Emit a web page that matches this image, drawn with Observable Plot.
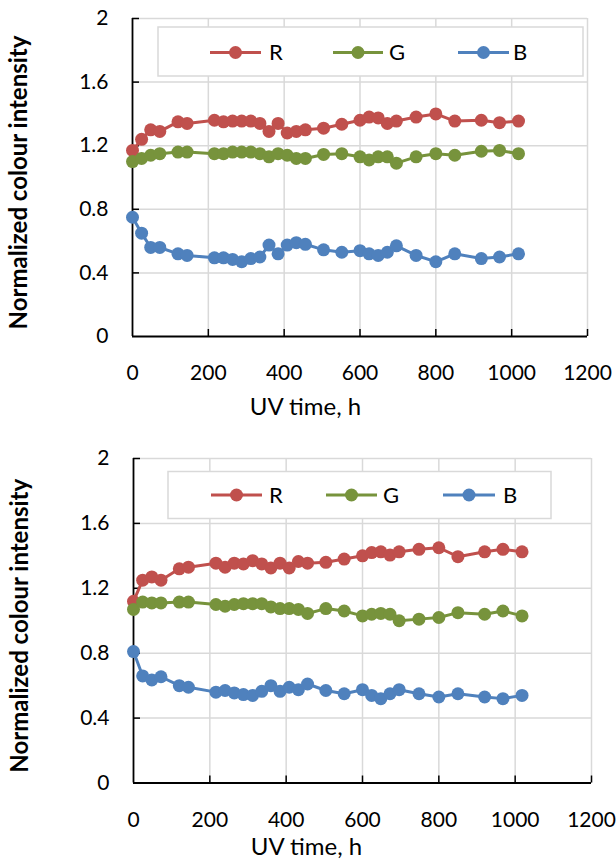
<!DOCTYPE html>
<html><head><meta charset="utf-8">
<script src="https://cdn.jsdelivr.net/npm/d3@7"></script>
<script src="https://cdn.jsdelivr.net/npm/@observablehq/plot@0.6"></script>
<style>
html,body{margin:0;padding:0;background:#fff;}
#wrap{position:relative;width:616px;height:862px;overflow:hidden;background:#fff;font-family:Lato,sans-serif;}
#wrap > *{position:absolute;left:0;}
</style></head><body><div id="wrap"></div>
<script>
// ---- data ----
const hours = [0,24,48,72,120,144,216,240,264,288,312,336,360,384,408,432,456,504,552,600,624,648,672,696,748,800,850,920,968,1018];
const seriesNames = ["R","G","B"];
const seriesColors = ["#C0504D","#77933C","#4F81BD"];
const xTicks = [0,200,400,600,800,1000,1200];
const yTicks = [0,0.4,0.8,1.2,1.6,2];
const yTickLabels = ["0","0.4","0.8","1.2","1.6","2"];
const xTitle = "UV time, h";
const yTitle = "Normalized colour intensity";

const r1 = [1.17,1.24,1.30,1.29,1.35,1.34,1.36,1.35,1.355,1.355,1.355,1.34,1.29,1.34,1.28,1.29,1.30,1.31,1.335,1.36,1.38,1.375,1.34,1.355,1.38,1.40,1.355,1.36,1.345,1.355];
const g1 = [1.10,1.12,1.14,1.15,1.16,1.16,1.15,1.15,1.16,1.16,1.16,1.15,1.13,1.15,1.14,1.12,1.12,1.145,1.15,1.13,1.11,1.13,1.13,1.09,1.13,1.15,1.14,1.165,1.17,1.15];
const b1 = [0.75,0.65,0.56,0.56,0.52,0.51,0.495,0.495,0.485,0.47,0.49,0.50,0.575,0.52,0.575,0.59,0.58,0.545,0.53,0.54,0.52,0.51,0.53,0.57,0.51,0.47,0.52,0.49,0.50,0.52];

const r2 = [1.12,1.25,1.27,1.25,1.32,1.33,1.355,1.33,1.355,1.35,1.37,1.35,1.325,1.355,1.325,1.365,1.355,1.36,1.38,1.40,1.42,1.425,1.405,1.425,1.44,1.45,1.395,1.425,1.44,1.425];
const g2 = [1.07,1.115,1.11,1.11,1.115,1.115,1.10,1.09,1.10,1.105,1.105,1.105,1.085,1.075,1.075,1.07,1.045,1.075,1.06,1.03,1.04,1.045,1.04,1.00,1.01,1.02,1.05,1.04,1.06,1.03];
const b2 = [0.81,0.66,0.635,0.655,0.60,0.59,0.56,0.57,0.555,0.545,0.54,0.565,0.60,0.565,0.59,0.575,0.61,0.57,0.55,0.575,0.54,0.52,0.55,0.575,0.55,0.53,0.55,0.53,0.52,0.54];

// ---- drawing ----
const wrap = document.getElementById("wrap");

function panel(values, cfg) {
  const rows = [];
  values.forEach((arr, si) => arr.forEach((v, i) => rows.push({series: seriesNames[si], h: hours[i], v})));
  const plotW = 616 - cfg.ml - cfg.mr, plotH = cfg.height - cfg.mt - cfg.mb;
  const tx = 7 * 1200 / plotW, ty = 7 * 2 / plotH;
  const svg = Plot.plot({
    width: 616, height: cfg.height,
    marginLeft: cfg.ml, marginRight: cfg.mr, marginTop: cfg.mt, marginBottom: cfg.mb,
    style: {fontFamily: "Lato, sans-serif", fontSize: "21px", color: "#000", background: "transparent", overflow: "visible"},
    x: {domain: [0, 1200]},
    y: {domain: [0, 2]},
    color: {domain: seriesNames, range: seriesColors},
    marks: [
      Plot.gridX(xTicks.slice(1), {stroke: "#d9d9d9", strokeOpacity: 1, strokeWidth: 1.5}),
      Plot.gridY(yTicks.slice(1), {stroke: "#d9d9d9", strokeOpacity: 1, strokeWidth: 1.5}),
      Plot.axisX(xTicks, {tickSize: 0, tickPadding: cfg.xpad, label: null, tickFormat: d => String(d), fill: "#000"}),
      Plot.axisY(yTicks, {tickSize: 0, tickPadding: 24, label: null, tickFormat: d => yTickLabels[yTicks.indexOf(d)], fill: "#000"}),
      Plot.ruleY(yTicks.slice(1), {x1: 0, x2: tx, stroke: "#000", strokeWidth: 1.5}),
      Plot.ruleX(xTicks.slice(1), {y1: 0, y2: ty, stroke: "#000", strokeWidth: 1.5}),
      Plot.ruleX([0], {stroke: "#000", strokeWidth: 1.8}),
      Plot.ruleY([0], {stroke: "#000", strokeWidth: 1.8}),
      Plot.line(rows, {x: "h", y: "v", z: "series", stroke: "series", strokeWidth: 3}),
      Plot.dot(rows, {x: "h", y: "v", fill: "series", r: 6.5}),
      Plot.text([xTitle], {text: d => d, frameAnchor: "bottom-left", dx: 173, dy: cfg.xtdy, fontSize: 24, textAnchor: "middle", lineAnchor: "middle", fill: "#000"}),
      Plot.text([yTitle], {text: d => d, frameAnchor: "left", dx: -113, dy: 5, rotate: -90, fontSize: 24, fontWeight: "bold", textAnchor: "middle", lineAnchor: "middle", fill: "#000"})
    ]
  });
  svg.style.top = cfg.top + "px";
  wrap.appendChild(svg);
}

panel([r1, g1, b1], {top: 0, height: 440, ml: 132, mr: 29, mt: 18, mb: 104, xpad: 28.5, xtdy: 71});
panel([r2, g2, b2], {top: 440, height: 422, ml: 133, mr: 25, mt: 18, mb: 79.5, xpad: 29.5, xtdy: 64});

// ---- legends (inside plot areas) ----
const legendLayouts = [
  {box: [158, 27, 583, 76], cy: 52.5, items: [[210, 261, 269], [333, 383, 389], [458, 509, 513]]},
  {box: [168, 471.5, 551, 518.5], cy: 495, items: [[211, 262, 269], [326, 377, 383], [443, 495, 503]]}
];
const lsvg = d3.create("svg").attr("width", 616).attr("height", 862).style("top", "0px").style("pointer-events", "none");
legendLayouts.forEach(L => {
  const [x0, y0, x1, y1] = L.box;
  lsvg.append("rect").attr("x", x0).attr("y", y0).attr("width", x1 - x0).attr("height", y1 - y0)
    .attr("fill", "#fff").attr("stroke", "#d9d9d9").attr("stroke-width", 1.5);
  L.items.forEach(([a, b, t], i) => {
    lsvg.append("line").attr("x1", a).attr("x2", b).attr("y1", L.cy).attr("y2", L.cy)
      .attr("stroke", seriesColors[i]).attr("stroke-width", 3);
    lsvg.append("circle").attr("cx", (a + b) / 2).attr("cy", L.cy).attr("r", 6.5).attr("fill", seriesColors[i]);
    lsvg.append("text").attr("x", t).attr("y", L.cy).attr("dy", "0.35em")
      .attr("font-family", "Lato, sans-serif").attr("font-size", 22).attr("fill", "#000").text(seriesNames[i]);
  });
});
wrap.appendChild(lsvg.node());
</script></body></html>
